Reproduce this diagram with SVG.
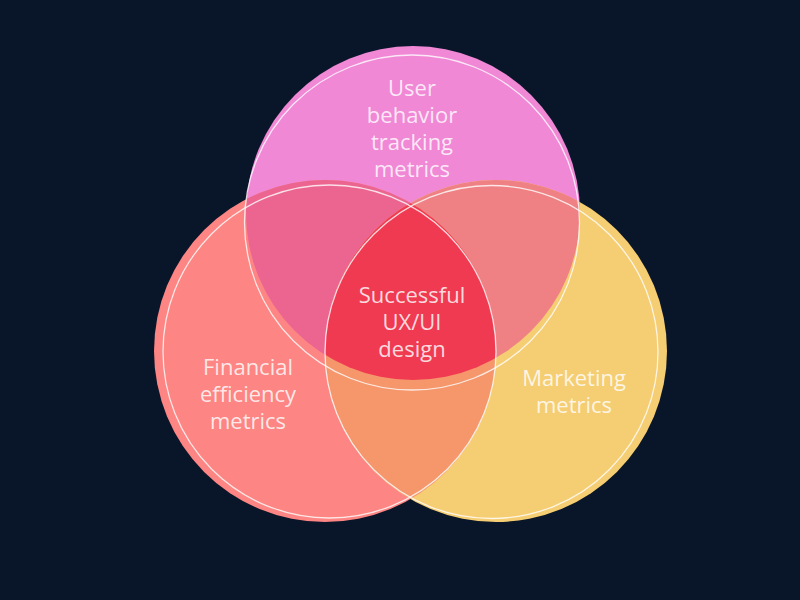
<svg xmlns="http://www.w3.org/2000/svg" width="800" height="600" viewBox="0 0 800 600">
  <style>
    .lbl { font-family: "Open Sans", "Noto Sans", "Liberation Sans", sans-serif; font-size: 22px; fill: #ffffff; fill-opacity: 0.82; text-anchor: middle; }
    .ring { fill: none; stroke: #ffffff; stroke-opacity: 0.8; stroke-width: 1.3; }
  </style>
  <defs>
    <clipPath id="clipT"><circle cx="413" cy="213" r="167"/></clipPath>
    <clipPath id="clipL"><circle cx="325" cy="351" r="171"/></clipPath>
    <clipPath id="clipR"><circle cx="496" cy="351" r="171"/></clipPath>
  </defs>
  <rect width="800" height="600" fill="#091528"/>

  <g id="set-top">
    <circle cx="413" cy="213" r="167" fill="#f088d6"/>
  </g>
  <g id="set-left">
    <circle cx="325" cy="351" r="171" fill="#fd8583"/>
  </g>
  <g id="set-right">
    <circle cx="496" cy="351" r="171" fill="#f5cd72"/>
  </g>

  <g id="overlaps">
    <circle cx="325" cy="351" r="171" fill="#eb6590" clip-path="url(#clipT)"/>
    <circle cx="496" cy="351" r="171" fill="#ef8083" clip-path="url(#clipT)"/>
    <circle cx="496" cy="351" r="171" fill="#f5966b" clip-path="url(#clipL)"/>
    <g clip-path="url(#clipT)">
      <circle cx="496" cy="351" r="171" fill="#f03a52" clip-path="url(#clipL)"/>
    </g>
  </g>

  <g id="rings">
    <circle class="ring" cx="412" cy="222.5" r="167.5"/>
    <circle class="ring" cx="329.5" cy="351.5" r="166.5"/>
    <circle class="ring" cx="491.5" cy="352" r="166.5"/>
  </g>

  <g id="label-top">
    <text class="lbl" x="412" y="96">User</text>
    <text class="lbl" x="412" y="123">behavior</text>
    <text class="lbl" x="412" y="150">tracking</text>
    <text class="lbl" x="412" y="177">metrics</text>
  </g>
  <g id="label-left">
    <text class="lbl" x="248" y="375">Financial</text>
    <text class="lbl" x="248" y="402">efficiency</text>
    <text class="lbl" x="248" y="429">metrics</text>
  </g>
  <g id="label-right">
    <text class="lbl" x="574" y="386">Marketing</text>
    <text class="lbl" x="574" y="413">metrics</text>
  </g>
  <g id="label-center">
    <text class="lbl" x="412" y="303">Successful</text>
    <text class="lbl" x="412" y="330">UX/UI</text>
    <text class="lbl" x="412" y="357">design</text>
  </g>
</svg>
